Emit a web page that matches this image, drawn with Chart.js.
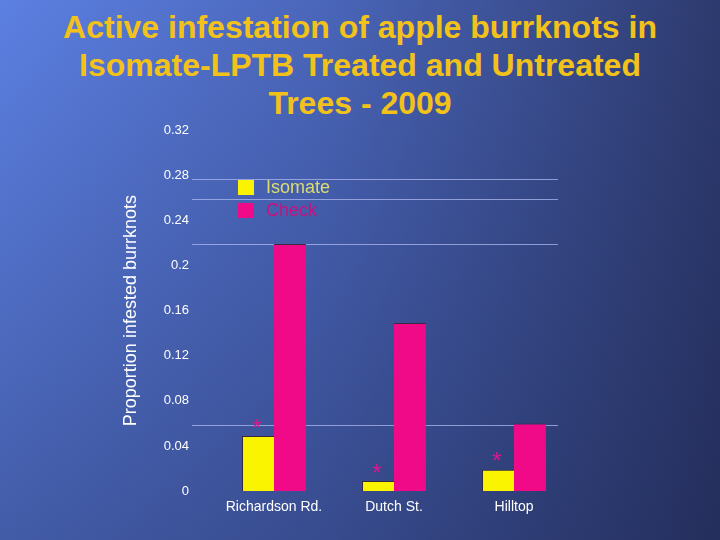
<!DOCTYPE html>
<html>
<head>
<meta charset="utf-8">
<script src="https://cdn.jsdelivr.net/npm/chart.js@4.4.0/dist/chart.umd.min.js"></script>
<style>
  html, body { margin: 0; padding: 0; }
  body {
    width: 720px; height: 540px; overflow: hidden; position: relative;
    background:
      linear-gradient(to bottom, rgba(20,25,60,0) 0%, rgba(20,25,60,0.35) 100%),
      linear-gradient(to right, #5c80e2 0%, #4a66ba 45%, #2d3a6e 100%);
  }
  .title {
    position: absolute; left: 0; top: 8px; width: 720px; text-align: center;
    font: bold 32px "Liberation Sans", Arial, sans-serif; line-height: 38px;
    color: #f2c21a;
  }
  canvas { position: absolute; left: 0; top: 0; }
</style>
</head>
<body>
<div class="title">Active infestation of apple burrknots in<br>Isomate-LPTB Treated and Untreated<br>Trees - 2009</div>
<canvas id="chart" width="720" height="540"></canvas>
<script>
const sites = ["Richardson Rd.", "Dutch St.", "Hilltop"];
const isomate = [0.049, 0.009, 0.019];
const check = [0.219, 0.149, 0.060];
const marks = ["*", "*", "*"];
const yTicks = [0, 0.04, 0.08, 0.12, 0.16, 0.2, 0.24, 0.28, 0.32];
const tickText = ["0", "0.04", "0.08", "0.12", "0.16", "0.2", "0.24", "0.28", "0.32"];
const gridValues = [0.059, 0.219, 0.259, 0.277];

const font = '"Liberation Sans", Arial, sans-serif';

// odd grid lines of the original slide, drawn behind the bars
const gridPlugin = {
  id: "oddGrid",
  beforeDatasetsDraw(chart) {
    const { ctx, chartArea, scales } = chart;
    ctx.save();
    ctx.strokeStyle = "rgba(175,185,240,0.75)";
    ctx.lineWidth = 1;
    gridValues.forEach(v => {
      const y = Math.round(scales.y.getPixelForValue(v)) + 0.5;
      ctx.beginPath();
      ctx.moveTo(chartArea.left - 22, y);
      ctx.lineTo(chartArea.right - 16, y);
      ctx.stroke();
    });
    ctx.restore();
  }
};

// legend inside the plot, and the asterisks above the Isomate bars
const extrasPlugin = {
  id: "extras",
  afterDatasetsDraw(chart) {
    const { ctx, chartArea } = chart;
    ctx.save();
    const textColors = ["#dcdc6e", "#c8127e"];
    chart.data.datasets.forEach((ds, i) => {
      const x = chartArea.left + 24;
      const y = chartArea.top + 50 + i * 23;
      ctx.fillStyle = ds.backgroundColor;
      ctx.fillRect(x, y, 16, 15);
      ctx.fillStyle = textColors[i];
      ctx.font = "18px " + font;
      ctx.textBaseline = "middle";
      ctx.textAlign = "left";
      ctx.fillText(ds.label, x + 28, y + 8);
    });
    const meta = chart.getDatasetMeta(0);
    ctx.fillStyle = "#e0148c";
    ctx.font = "24px " + font;
    ctx.textAlign = "center";
    ctx.textBaseline = "middle";
    meta.data.forEach((bar, i) => {
      ctx.fillText(marks[i], bar.x - 1, bar.y - 7);
    });
    ctx.restore();
  }
};

new Chart(document.getElementById("chart"), {
  type: "bar",
  data: {
    labels: sites,
    datasets: [
      { label: "Isomate", data: isomate, backgroundColor: "#fbf400",
        borderColor: "#3a2a40", borderWidth: { top: 1, left: 1, right: 0, bottom: 0 }, borderSkipped: false },
      { label: "Check", data: check, backgroundColor: "#f00a88",
        borderColor: "#3a2a40", borderWidth: { top: 1, left: 0, right: 0, bottom: 0 }, borderSkipped: false }
    ]
  },
  options: {
    responsive: false,
    animation: false,
    layout: { padding: { top: 130, right: 146, bottom: 24, left: 120 } },
    datasets: { bar: { barPercentage: 1, categoryPercentage: 0.533 } },
    plugins: { legend: { display: false }, title: { display: false }, tooltip: { enabled: false } },
    scales: {
      x: {
        grid: { display: false },
        border: { display: false },
        ticks: { color: "#ffffff", font: { family: font, size: 14 }, padding: 0, maxRotation: 0 }
      },
      y: {
        min: 0, max: 0.32,
        afterBuildTicks(axis) { axis.ticks = yTicks.map(v => ({ value: v })); },
        afterFit(axis) { axis.width = 94; },
        grid: { display: false },
        border: { display: false },
        ticks: {
          color: "#ffffff", font: { family: font, size: 13 }, padding: 17,
          callback: (v, i) => tickText[i]
        },
        title: {
          display: true, text: "Proportion infested burrknots", color: "#ffffff",
          font: { family: font, size: 18 }, padding: { top: 0, bottom: 10 }
        }
      }
    }
  },
  plugins: [gridPlugin, extrasPlugin]
});
</script>
</body>
</html>
